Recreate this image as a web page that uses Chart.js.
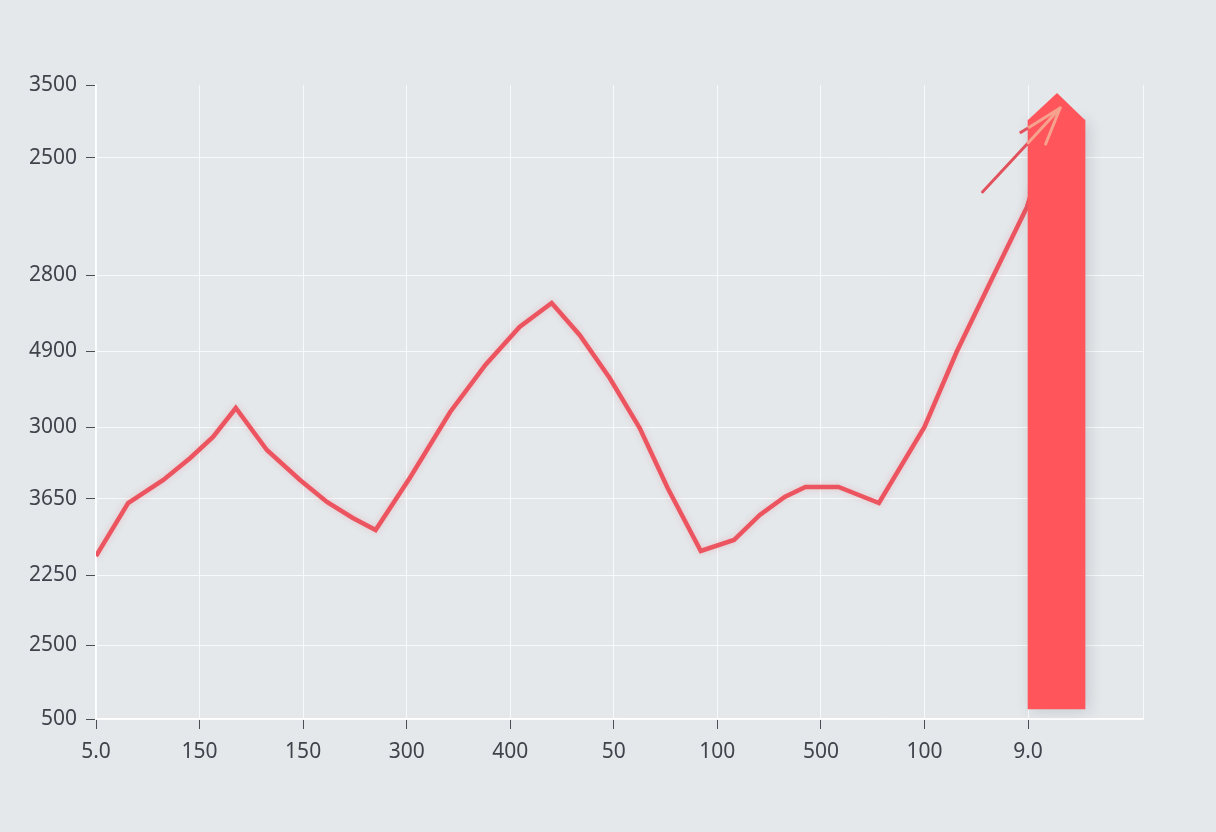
<!DOCTYPE html>
<html>
<head>
<meta charset="utf-8">
<script src="https://cdn.jsdelivr.net/npm/chart.js@4/dist/chart.umd.min.js"></script>
<style>
  html, body { margin: 0; padding: 0; background: #e4e8eb; }
  #wrap { width: 1216px; height: 832px; }
</style>
</head>
<body>
<div id="wrap"><canvas id="chart" width="1216" height="832"></canvas></div>
<script>
// tick positions and the (odd) labels printed at them
const xTickPos = [0, 1, 2, 3, 4, 5, 6, 7, 8, 9];
const xTickLabels = ["5.0", "150", "150", "300", "400", "50", "100", "500", "100", "9.0"];
const xMax = 10.11;

const yTickPos = [0, 7.4, 14.4, 22.0, 29.2, 36.8, 44.4, 56.1, 63.4];
const yTickLabels = ["500", "2500", "2250", "3650", "3000", "4900", "2800", "2500", "3500"];
const yMax = 63.4;

// main series
const lineX = [0, 0.31, 0.65, 0.91, 1.13, 1.35, 1.65, 1.97, 2.23, 2.48, 2.70,
  3.03, 3.42, 3.76, 4.09, 4.40, 4.67, 4.96, 5.25, 5.52, 5.84,
  6.16, 6.41, 6.65, 6.85, 7.17, 7.56, 8.00, 8.31, 8.66, 8.99, 9.19];
const lineY = [16.3, 21.6, 23.9, 26.1, 28.2, 31.1, 26.9, 23.9, 21.7, 20.1, 18.9,
  24.1, 30.7, 35.4, 39.2, 41.6, 38.4, 34.1, 29.1, 23.1, 16.8,
  17.9, 20.4, 22.2, 23.2, 23.2, 21.6, 29.2, 36.7, 44.2, 51.2, 57.9];

// the tall spike at the end
const spikeX = 9.275;
const spikeLow = 1.0;
const spikeHigh = 59.9;
const capX = [9.0, 9.28, 9.55];
const capY = [59.9, 62.6, 59.9];

// arrow
const shaftX = [8.56, 9.0, 9.31];
const shaftY = [52.7, 57.6, 61.1];
const barbLX = [8.92, 9.0, 9.31];
const barbLY = [58.6, 59.1, 61.1];
const barbRX = [9.17, 9.31];
const barbRY = [57.5, 61.1];

const toPoints = (xs, ys) => xs.map((x, i) => ({ x: x, y: ys[i] }));

const red = "#ec5560";
const spikeRed = "#ff555b";
const arrowDark = "#e2525d";
const arrowLight = "#f6a28e";
const labelColor = "#3f434b";

const arrowSegment = {
  borderColor: ctx => (ctx.p0.parsed.x < 9.0 ? arrowDark : arrowLight)
};

const softShadow = {
  id: "softShadow",
  beforeDatasetDraw(chart, args) {
    const ds = chart.data.datasets[args.index];
    if (!ds.shadow) return;
    const ctx = chart.ctx;
    ctx.save();
    ctx.shadowColor = ds.shadow.color;
    ctx.shadowBlur = ds.shadow.blur;
    ctx.shadowOffsetX = ds.shadow.dx || 0;
    ctx.shadowOffsetY = ds.shadow.dy || 0;
  },
  afterDatasetDraw(chart, args) {
    const ds = chart.data.datasets[args.index];
    if (ds.shadow) chart.ctx.restore();
  }
};

new Chart(document.getElementById("chart"), {
  data: {
    datasets: [
      {
        type: "line", data: toPoints(shaftX, shaftY), order: 0,
        borderWidth: 3, pointRadius: 0, segment: arrowSegment, borderCapStyle: "round"
      },
      {
        type: "line", data: toPoints(barbLX, barbLY), order: 0,
        borderWidth: 3, pointRadius: 0, segment: arrowSegment, borderCapStyle: "butt"
      },
      {
        type: "line", data: toPoints(barbRX, barbRY), order: 0,
        borderWidth: 3, pointRadius: 0, borderColor: arrowLight, borderCapStyle: "round"
      },
      {
        type: "line", data: toPoints(capX, capY), order: 1,
        borderWidth: 0, pointRadius: 0, backgroundColor: spikeRed,
        fill: { value: 59.0 }
      },
      {
        type: "bar", data: [{ x: spikeX, y: [spikeLow, spikeHigh] }], order: 2,
        backgroundColor: spikeRed, borderWidth: 0, barThickness: 57,
        shadow: { color: "rgba(60,60,70,0.18)", blur: 14, dx: 3, dy: 2 }
      },
      {
        type: "line", data: toPoints(lineX, lineY), order: 3,
        borderColor: red, borderWidth: 4.5, pointRadius: 0, tension: 0,
        borderJoinStyle: "miter", fill: false,
        shadow: { color: "rgba(236,85,96,0.25)", blur: 6 }
      }
    ]
  },
  options: {
    responsive: false,
    devicePixelRatio: 1,
    animation: false,
    layout: { padding: { top: 85, right: 73, left: 0, bottom: 0 } },
    plugins: { legend: { display: false }, tooltip: { enabled: false } },
    scales: {
      x: {
        type: "linear", min: 0, max: xMax, offset: false,
        afterBuildTicks: scale => {
          scale.ticks = xTickPos.concat([xMax]).map(v => ({ value: v }));
        },
        afterFit: scale => { scale.height = 113; },
        ticks: {
          autoSkip: false, maxRotation: 0, padding: 10,
          color: labelColor, font: { family: "Noto Sans", size: 21 },
          callback: (v, i) => (i < xTickLabels.length ? xTickLabels[i] : "")
        },
        grid: {
          offset: false,
          color: "rgba(255,255,255,0.75)", lineWidth: 1,
          tickLength: 10,
          tickColor: ctx => (ctx.index < xTickLabels.length ? "#4a4e55" : "rgba(0,0,0,0)")
        },
        border: { color: "#ffffff", width: 1.5 }
      },
      y: {
        type: "linear", min: 0, max: yMax,
        afterBuildTicks: scale => {
          scale.ticks = yTickPos.map(v => ({ value: v }));
        },
        afterFit: scale => { scale.width = 96; },
        ticks: {
          autoSkip: false, padding: 9,
          color: labelColor, font: { family: "Noto Sans", size: 21 },
          callback: (v, i) => yTickLabels[i]
        },
        grid: {
          color: ctx => (ctx.tick && ctx.tick.value === yMax ? "rgba(0,0,0,0)" : "rgba(255,255,255,0.75)"),
          lineWidth: 1,
          tickLength: 10,
          tickColor: "#4a4e55"
        },
        border: { color: "#ffffff", width: 1.5 }
      }
    }
  },
  plugins: [softShadow]
});
</script>
</body>
</html>
